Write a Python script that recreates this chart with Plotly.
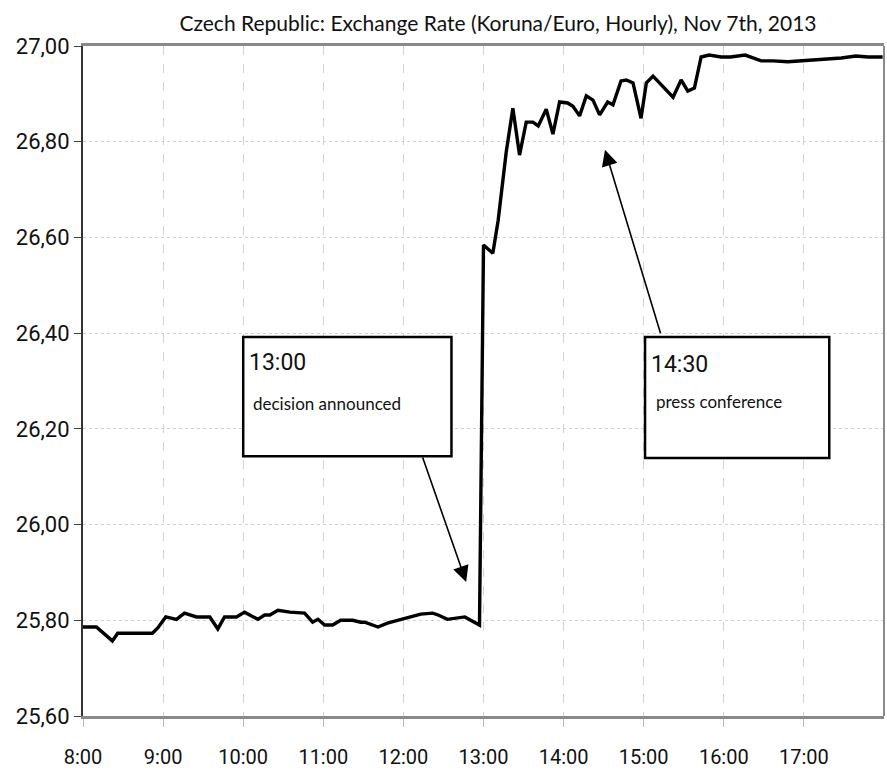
import plotly.graph_objects as go

# (time of day, CZK per EUR)
times = [
    "08:00", "08:10", "08:22", "08:26", "08:52", "08:56", "09:02", "09:10", "09:16", "09:25",
    "09:35", "09:41", "09:46", "09:55", "10:01", "10:11", "10:16", "10:20", "10:26", "10:35",
    "10:46", "10:52", "10:56", "11:01", "11:07", "11:13", "11:22", "11:28", "11:31", "11:41",
    "11:48", "11:52", "11:59", "12:07", "12:13", "12:22", "12:26", "12:33", "12:46", "12:57",
    "13:00", "13:07", "13:11", "13:17", "13:22", "13:27", "13:32", "13:37", "13:41", "13:47",
    "13:52", "13:57", "14:03", "14:07", "14:12", "14:17", "14:22", "14:27", "14:33", "14:37",
    "14:43", "14:47", "14:52", "14:58", "15:02", "15:07", "15:22", "15:28", "15:33", "15:38",
    "15:43", "15:49", "15:58", "16:05", "16:16", "16:28", "16:37", "16:48", "16:59", "17:10",
    "17:20", "17:28", "17:39", "17:48", "17:59",
]
rate = [
    25.786, 25.786, 25.757, 25.773, 25.773, 25.784, 25.807, 25.802, 25.815, 25.807,
    25.807, 25.782, 25.807, 25.807, 25.817, 25.802, 25.811, 25.811, 25.821, 25.817,
    25.815, 25.796, 25.802, 25.790, 25.790, 25.800, 25.800, 25.796, 25.796, 25.786,
    25.794, 25.797, 25.802, 25.807, 25.813, 25.815, 25.811, 25.802, 25.807, 25.790,
    26.584, 26.567, 26.636, 26.778, 26.870, 26.772, 26.841, 26.841, 26.833, 26.868,
    26.816, 26.883, 26.881, 26.874, 26.854, 26.896, 26.887, 26.856, 26.883, 26.877,
    26.927, 26.929, 26.923, 26.849, 26.923, 26.937, 26.893, 26.929, 26.906, 26.912,
    26.977, 26.981, 26.977, 26.977, 26.981, 26.969, 26.969, 26.967, 26.969, 26.971,
    26.973, 26.975, 26.979, 26.977, 26.977,
]
hour_ticks = ["08:00", "09:00", "10:00", "11:00", "12:00", "13:00", "14:00", "15:00", "16:00", "17:00"]
hour_labels = ["8:00", "9:00", "10:00", "11:00", "12:00", "13:00", "14:00", "15:00", "16:00", "17:00"]
rate_ticks = [25.6, 25.8, 26.0, 26.2, 26.4, 26.6, 26.8, 27.0]
rate_labels = ["25,60", "25,80", "26,00", "26,20", "26,40", "26,60", "26,80", "27,00"]

DAY = "2013-11-07 "
NARROW = "Roboto"
HUMANIST = "Lato"


def ts(t):
    return DAY + t


fig = go.Figure()
fig.add_trace(go.Scatter(
    x=[ts(t) for t in times], y=rate, mode="lines",
    line=dict(color="#000000", width=3.4), showlegend=False, hoverinfo="x+y",
))

fig.update_layout(
    width=887, height=777,
    margin=dict(l=83, r=3, t=46, b=61),
    paper_bgcolor="white", plot_bgcolor="white",
    title=dict(
        text="Czech Republic: Exchange Rate (Koruna/Euro, Hourly), Nov 7th, 2013",
        x=498 / 887, xanchor="center", y=1 - 24 / 777, yanchor="middle",
        font=dict(family=HUMANIST, size=21, color="#111111"),
    ),
)
fig.update_xaxes(
    range=[ts("08:00"), ts("18:00")],
    tickvals=[ts(t) for t in hour_ticks], ticktext=hour_labels,
    tickfont=dict(family=NARROW, size=20, color="#111111"),
    ticks="outside", ticklen=8, tickcolor="#bbbbbb", ticklabelstandoff=13,
    showgrid=True, gridcolor="#d2d2d2", gridwidth=1, griddash="dash",
    showline=True, linecolor="#8a8a8a", linewidth=3, mirror=True,
    zeroline=False,
)
fig.update_yaxes(
    range=[25.6, 27.0],
    tickvals=rate_ticks, ticktext=rate_labels,
    tickfont=dict(family=NARROW, size=22, color="#111111"),
    ticks="outside", ticklen=7, tickcolor="#444444",
    showgrid=True, gridcolor="#d2d2d2", gridwidth=1, griddash="dot",
    showline=True, linecolor="#333333", linewidth=2,
    zeroline=False,
)

# right border of the plot frame
fig.add_shape(type="line", xref="paper", yref="paper", x0=1, x1=1, y0=0, y1=1,
              line=dict(color="#8a8a8a", width=2))

# annotation boxes
boxes = [
    (ts("10:00"), ts("12:36"), 26.143, 26.392),
    (ts("15:01"), ts("17:19"), 26.139, 26.392),
]
for x0, x1, y0, y1 in boxes:
    fig.add_shape(type="rect", xref="x", yref="y", x0=x0, x1=x1, y0=y0, y1=y1,
                  line=dict(color="#000000", width=2.5), fillcolor="white")

fig.add_annotation(x=ts("10:03"), y=26.338, xref="x", yref="y", text="13:00",
                   showarrow=False, xanchor="left", yanchor="middle",
                   font=dict(family=NARROW, size=23, color="#111111"))
fig.add_annotation(x=ts("10:06"), y=26.254, xref="x", yref="y", text="decision announced",
                   showarrow=False, xanchor="left", yanchor="middle",
                   font=dict(family=HUMANIST, size=17, color="#111111"))
fig.add_annotation(x=ts("15:04"), y=26.334, xref="x", yref="y", text="14:30",
                   showarrow=False, xanchor="left", yanchor="middle",
                   font=dict(family=NARROW, size=23, color="#111111"))
fig.add_annotation(x=ts("15:08"), y=26.258, xref="x", yref="y", text="press conference",
                   showarrow=False, xanchor="left", yanchor="middle",
                   font=dict(family=HUMANIST, size=17, color="#111111"))

# arrows pointing at the events
fig.add_annotation(x=ts("12:47"), y=25.880, xref="x", yref="y", text="",
                   showarrow=True, ax=-44, ay=-126, arrowhead=2, arrowsize=2,
                   arrowwidth=1.6, arrowcolor="#000000")
fig.add_annotation(x=ts("14:31"), y=26.783, xref="x", yref="y", text="",
                   showarrow=True, ax=56, ay=185, arrowhead=2, arrowsize=2,
                   arrowwidth=1.6, arrowcolor="#000000")

# the page body has a default 8px margin; drop it so the figure fills the window
fig.write_html("out.html", config={"displayModeBar": False},
               post_script="document.body.style.margin='0';")
